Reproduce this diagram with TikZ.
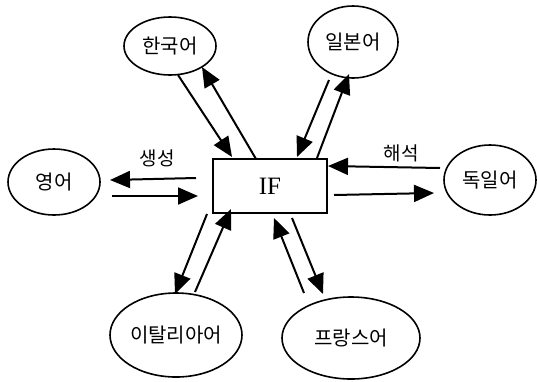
\documentclass[tikz,border=0pt]{standalone}
\usepackage{fontspec}
\setmainfont{Liberation Serif}
\newfontfamily\kr{Noto Sans CJK KR}
\usetikzlibrary{arrows.meta,shapes.geometric}
\begin{document}
\begin{tikzpicture}[x=1pt,y=-1pt,
  lang/.style={draw,ellipse,line width=1.6pt,inner sep=0pt,font=\kr\fontsize{20}{22}\selectfont},
  conn/.style={line width=2pt,-{Triangle[length=20pt,width=17pt]}},
  lbl/.style={font=\kr\fontsize{19}{20}\selectfont}]
\useasboundingbox (0,0) rectangle (537,381);
% central box
\node[draw,line width=1.6pt,minimum width=114pt,minimum height=54pt,inner sep=0pt,font=\fontsize{25}{26}\selectfont] (if) at (270,186) {IF};
% language ellipses
\node[lang,minimum width=92pt,minimum height=58pt] (ko) at (170,46) {한국어};
\node[lang,minimum width=90pt,minimum height=72pt] (ja) at (353,42) {일본어};
\node[lang,minimum width=92pt,minimum height=66pt] (en) at (54,182) {영어};
\node[lang,minimum width=92pt,minimum height=70pt] (de) at (490,180) {독일어};
\node[lang,minimum width=132pt,minimum height=84pt] (it) at (176,335) {이탈리아어};
\node[lang,minimum width=138pt,minimum height=82pt] (fr) at (351,338) {프랑스어};
% endpoints
\coordinate (ko1) at (178,75);  \coordinate (if1) at (232,157);
\coordinate (if2) at (256,159); \coordinate (ko2) at (202,67);
\coordinate (ja1) at (329,80);  \coordinate (if3) at (297,157);
\coordinate (if4) at (317,158); \coordinate (ja2) at (349,74);
\coordinate (if5) at (196,178); \coordinate (en1) at (110,180);
\coordinate (en2) at (112,196); \coordinate (if6) at (198,196);
\coordinate (de1) at (440,168); \coordinate (if7) at (328,166);
\coordinate (if8) at (334,195); \coordinate (de2) at (434,193);
\coordinate (if9) at (207,214); \coordinate (it1) at (175,294);
\coordinate (it2) at (195,292); \coordinate (if10) at (231,209);
\coordinate (fr1) at (304,293); \coordinate (if11) at (274,218);
\coordinate (if12) at (292,218); \coordinate (fr2) at (323,294);
% connectors
\draw[conn] (ko1) -- (if1);
\draw[conn] (if2) -- (ko2);
\draw[conn] (ja1) -- (if3);
\draw[conn] (if4) -- (ja2);
\draw[conn] (if5) -- (en1);
\draw[conn] (en2) -- (if6);
\draw[conn] (de1) -- (if7);
\draw[conn] (if8) -- (de2);
\draw[conn] (if9) -- (it1);
\draw[conn] (it2) -- (if10);
\draw[conn] (fr1) -- (if11);
\draw[conn] (if12) -- (fr2);
% labels
\node[lbl] (gen) at (157,158) {생성};
\node[lbl] (ana) at (401,153) {해석};
\end{tikzpicture}
\end{document}
